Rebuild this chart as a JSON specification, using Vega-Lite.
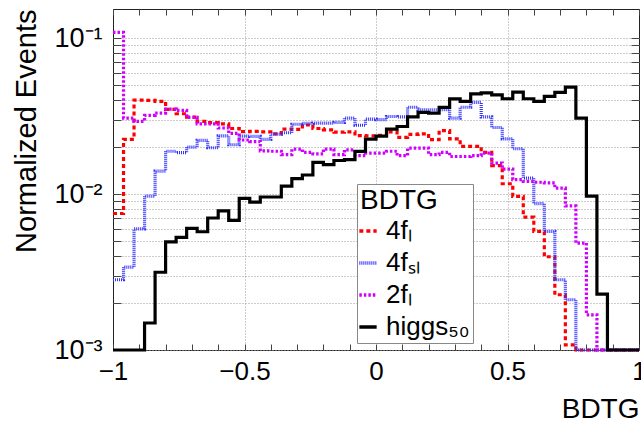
{
  "$schema": "https://vega.github.io/schema/vega-lite/v6.json",
  "width": 526,
  "height": 341,
  "autosize": "none",
  "padding": {"left": 113, "top": 9, "right": 2, "bottom": 73},
  "background": "white",
  "config": {
    "font": "Liberation Sans",
    "view": {"stroke": "#222", "strokeWidth": 1},
    "axis": {"domain": false, "labelFont": "Liberation Sans", "titleFont": "Liberation Sans", "labelColor": "black", "titleColor": "black", "titleFontWeight": "normal", "tickColor": "#444", "tickWidth": 1},
    "legend": {"titleFontSize": 28, "titleFont": "Liberation Sans", "titleFontWeight": "normal", "labelFont": "Liberation Sans", "labelFontSize": 26, "titleLimit": 300, "labelLimit": 300}
  },
  "data": {"values": [
    {"x": -1, "f4l": 0.0075, "f4sl": 0.00282, "f2l": 0.1087, "higgs": 0.001},
    {"x": -0.96, "f4l": 0.0224, "f4sl": 0.0034, "f2l": 0.0307, "higgs": 0.001},
    {"x": -0.92, "f4l": 0.0400, "f4sl": 0.00597, "f2l": 0.0292, "higgs": 0.001},
    {"x": -0.88, "f4l": 0.0398, "f4sl": 0.0097, "f2l": 0.0319, "higgs": 0.00149},
    {"x": -0.84, "f4l": 0.0393, "f4sl": 0.0140, "f2l": 0.0330, "higgs": 0.00315},
    {"x": -0.8, "f4l": 0.0349, "f4sl": 0.0188, "f2l": 0.0350, "higgs": 0.00494},
    {"x": -0.76, "f4l": 0.0327, "f4sl": 0.0184, "f2l": 0.0344, "higgs": 0.00527},
    {"x": -0.72, "f4l": 0.0311, "f4sl": 0.0200, "f2l": 0.0310, "higgs": 0.00603},
    {"x": -0.68, "f4l": 0.0292, "f4sl": 0.0221, "f2l": 0.0282, "higgs": 0.00573},
    {"x": -0.64, "f4l": 0.0287, "f4sl": 0.0198, "f2l": 0.0282, "higgs": 0.00702},
    {"x": -0.6, "f4l": 0.0282, "f4sl": 0.0236, "f2l": 0.0265, "higgs": 0.0078},
    {"x": -0.56, "f4l": 0.0263, "f4sl": 0.0207, "f2l": 0.0245, "higgs": 0.00678},
    {"x": -0.52, "f4l": 0.0251, "f4sl": 0.0235, "f2l": 0.0222, "higgs": 0.00937},
    {"x": -0.48, "f4l": 0.0252, "f4sl": 0.0234, "f2l": 0.0217, "higgs": 0.00888},
    {"x": -0.44, "f4l": 0.0250, "f4sl": 0.0224, "f2l": 0.0189, "higgs": 0.00957},
    {"x": -0.4, "f4l": 0.0243, "f4sl": 0.0242, "f2l": 0.0188, "higgs": 0.00957},
    {"x": -0.36, "f4l": 0.0261, "f4sl": 0.0247, "f2l": 0.0179, "higgs": 0.01125},
    {"x": -0.32, "f4l": 0.0260, "f4sl": 0.0280, "f2l": 0.0194, "higgs": 0.01254},
    {"x": -0.28, "f4l": 0.0277, "f4sl": 0.0284, "f2l": 0.0185, "higgs": 0.01324},
    {"x": -0.24, "f4l": 0.0263, "f4sl": 0.0285, "f2l": 0.0181, "higgs": 0.01595},
    {"x": -0.2, "f4l": 0.0258, "f4sl": 0.0285, "f2l": 0.0194, "higgs": 0.01542},
    {"x": -0.16, "f4l": 0.0249, "f4sl": 0.0288, "f2l": 0.0179, "higgs": 0.0164},
    {"x": -0.12, "f4l": 0.0250, "f4sl": 0.0307, "f2l": 0.0192, "higgs": 0.0166},
    {"x": -0.08, "f4l": 0.0237, "f4sl": 0.0276, "f2l": 0.0176, "higgs": 0.01875},
    {"x": -0.04, "f4l": 0.0236, "f4sl": 0.0302, "f2l": 0.0183, "higgs": 0.0225},
    {"x": 0, "f4l": 0.0238, "f4sl": 0.0300, "f2l": 0.0183, "higgs": 0.0235},
    {"x": 0.04, "f4l": 0.0250, "f4sl": 0.0314, "f2l": 0.0188, "higgs": 0.0261},
    {"x": 0.08, "f4l": 0.0231, "f4sl": 0.0312, "f2l": 0.0176, "higgs": 0.0271},
    {"x": 0.12, "f4l": 0.0241, "f4sl": 0.0360, "f2l": 0.0197, "higgs": 0.0312},
    {"x": 0.16, "f4l": 0.0243, "f4sl": 0.0347, "f2l": 0.0197, "higgs": 0.0334},
    {"x": 0.2, "f4l": 0.0223, "f4sl": 0.0347, "f2l": 0.0179, "higgs": 0.0330},
    {"x": 0.24, "f4l": 0.0255, "f4sl": 0.0347, "f2l": 0.0185, "higgs": 0.0359},
    {"x": 0.28, "f4l": 0.0226, "f4sl": 0.0307, "f2l": 0.0174, "higgs": 0.0407},
    {"x": 0.32, "f4l": 0.0202, "f4sl": 0.0360, "f2l": 0.0174, "higgs": 0.0393},
    {"x": 0.36, "f4l": 0.0202, "f4sl": 0.0387, "f2l": 0.0176, "higgs": 0.0438},
    {"x": 0.4, "f4l": 0.0185, "f4sl": 0.0312, "f2l": 0.0183, "higgs": 0.0445},
    {"x": 0.44, "f4l": 0.0152, "f4sl": 0.0267, "f2l": 0.0158, "higgs": 0.0432},
    {"x": 0.48, "f4l": 0.01164, "f4sl": 0.0226, "f2l": 0.01446, "higgs": 0.0408},
    {"x": 0.52, "f4l": 0.00965, "f4sl": 0.0195, "f2l": 0.01236, "higgs": 0.0450},
    {"x": 0.56, "f4l": 0.00711, "f4sl": 0.01266, "f2l": 0.01205, "higgs": 0.0408},
    {"x": 0.6, "f4l": 0.00576, "f4sl": 0.00867, "f2l": 0.0119, "higgs": 0.0393},
    {"x": 0.64, "f4l": 0.00396, "f4sl": 0.00576, "f2l": 0.0118, "higgs": 0.0423},
    {"x": 0.68, "f4l": 0.00226, "f4sl": 0.00282, "f2l": 0.0109, "higgs": 0.0448},
    {"x": 0.72, "f4l": 0.00108, "f4sl": 0.0021, "f2l": 0.0084, "higgs": 0.0485},
    {"x": 0.76, "f4l": 0.001, "f4sl": 0.001, "f2l": 0.00485, "higgs": 0.0307},
    {"x": 0.8, "f4l": 0.001, "f4sl": 0.001, "f2l": 0.00168, "higgs": 0.0097},
    {"x": 0.84, "f4l": 0.001, "f4sl": 0.001, "f2l": 0.001, "higgs": 0.00228},
    {"x": 0.88, "f4l": 0.001, "f4sl": 0.001, "f2l": 0.001, "higgs": 0.001},
    {"x": 0.92, "f4l": 0.001, "f4sl": 0.001, "f2l": 0.001, "higgs": 0.001},
    {"x": 0.96, "f4l": 0.001, "f4sl": 0.001, "f2l": 0.001, "higgs": 0.001},
    {"x": 1, "f4l": 0.001, "f4sl": 0.001, "f2l": 0.001, "higgs": 0.001}
  ]},
  "transform": [{"fold": ["f4l", "f4sl", "f2l", "higgs"], "as": ["sample", "v"]}],
  "layer": [
    {
      "mark": {"type": "line", "interpolate": "step-after", "strokeWidth": 3.2},
      "encoding": {
        "x": {"field": "x", "type": "quantitative",
          "scale": {"domain": [-1, 1], "nice": false, "zero": false},
          "axis": {"orient": "bottom", "title": "BDTG", "titleFontSize": 28, "titleAnchor": "end", "titlePadding": 11,
            "values": [-1, -0.9, -0.8, -0.7, -0.6, -0.5, -0.4, -0.3, -0.2, -0.1, 0, 0.1, 0.2, 0.3, 0.4, 0.5, 0.6, 0.7, 0.8, 0.9, 1],
            "format": "~g",
            "labelExpr": "(datum.value == -1 || datum.value == -0.5 || datum.value == 0 || datum.value == 0.5 || datum.value == 1) ? datum.label : ''",
            "labelFontSize": 26, "labelPadding": 14, "labelFlush": false, "labelOverlap": false, "labelBound": false,
            "tickSize": -6,
            "grid": true, "gridColor": "#999", "gridDash": [1, 2], "gridWidth": 1,
            "gridOpacity": {"condition": {"test": "datum.value == -0.5 || datum.value == 0 || datum.value == 0.5", "value": 1}, "value": 0}}},
        "y": {"field": "v", "type": "quantitative",
          "scale": {"type": "log", "domain": [0.001, 0.1535], "nice": false},
          "axis": {"orient": "left", "title": "Normalized Events", "titleFontSize": 29, "titleAnchor": "end", "titlePadding": 12,
            "values": [0.001, 0.002, 0.003, 0.004, 0.005, 0.006, 0.007, 0.008, 0.009, 0.01, 0.02, 0.03, 0.04, 0.05, 0.06, 0.07, 0.08, 0.09, 0.1],
            "labelExpr": "datum.value == 0.1 ? '10⁻¹' : datum.value == 0.01 ? '10⁻²' : datum.value == 0.001 ? '10⁻³' : ''",
            "labelFontSize": 27, "labelPadding": 19, "labelOverlap": false, "labelBound": false, "labelFlush": false,
            "tickSize": -8,
            "grid": true, "gridColor": "#999", "gridDash": [1, 2], "gridWidth": 1}},
        "color": {"field": "sample", "type": "nominal",
          "scale": {"domain": ["f4l", "f4sl", "f2l", "higgs"], "range": ["#ff0000", "#3030ff", "#d000ff", "#000000"]},
          "legend": {"title": "BDTG", "orient": "none", "legendX": 244, "legendY": 175, "direction": "vertical",
            "titleFontSize": 28, "titleFontWeight": "normal", "titleColor": "black", "titlePadding": 3,
            "labelFontSize": 26, "labelColor": "black", "labelOffset": 5, "symbolOffset": -5,
            "labelExpr": "datum.value == 'f4l' ? '4fₗ' : datum.value == 'f4sl' ? '4fₛₗ' : datum.value == 'f2l' ? '2fₗ' : 'higgs₅₀'",
            "symbolType": "stroke", "symbolSize": 300, "symbolStrokeWidth": 3.5,
            "fillColor": "white", "strokeColor": "#888", "padding": 3, "rowPadding": 6, "cornerRadius": 0}},
        "strokeDash": {"field": "sample", "type": "nominal",
          "scale": {"domain": ["f4l", "f4sl", "f2l", "higgs"], "range": [[4, 3], [1, 1], [2.5, 2], [1, 0]]},
          "legend": {"title": "BDTG", "orient": "none", "legendX": 244, "legendY": 175, "direction": "vertical",
            "titleFontSize": 28, "titleFontWeight": "normal", "titleColor": "black", "titlePadding": 3,
            "labelFontSize": 26, "labelColor": "black", "labelOffset": 5, "symbolOffset": -5,
            "labelExpr": "datum.value == 'f4l' ? '4fₗ' : datum.value == 'f4sl' ? '4fₛₗ' : datum.value == 'f2l' ? '2fₗ' : 'higgs₅₀'",
            "symbolType": "stroke", "symbolSize": 300, "symbolStrokeWidth": 3.5,
            "fillColor": "white", "strokeColor": "#888", "padding": 3, "rowPadding": 6, "cornerRadius": 0}}
      }
    },
    {
      "mark": {"type": "line", "opacity": 0},
      "encoding": {
        "x": {"field": "x", "type": "quantitative",
          "scale": {"domain": [-1, 1], "nice": false, "zero": false},
          "axis": {"orient": "top", "title": null, "labels": false, "grid": false, "tickSize": -6,
            "values": [-1, -0.9, -0.8, -0.7, -0.6, -0.5, -0.4, -0.3, -0.2, -0.1, 0, 0.1, 0.2, 0.3, 0.4, 0.5, 0.6, 0.7, 0.8, 0.9, 1]}},
        "y": {"field": "v", "type": "quantitative",
          "scale": {"type": "log", "domain": [0.001, 0.1535], "nice": false},
          "axis": {"orient": "right", "title": null, "labels": false, "grid": false, "tickSize": -8,
            "values": [0.001, 0.002, 0.003, 0.004, 0.005, 0.006, 0.007, 0.008, 0.009, 0.01, 0.02, 0.03, 0.04, 0.05, 0.06, 0.07, 0.08, 0.09, 0.1]}},
        "detail": {"field": "sample", "type": "nominal"}
      }
    }
  ],
  "resolve": {"axis": {"x": "independent", "y": "independent"}}
}
